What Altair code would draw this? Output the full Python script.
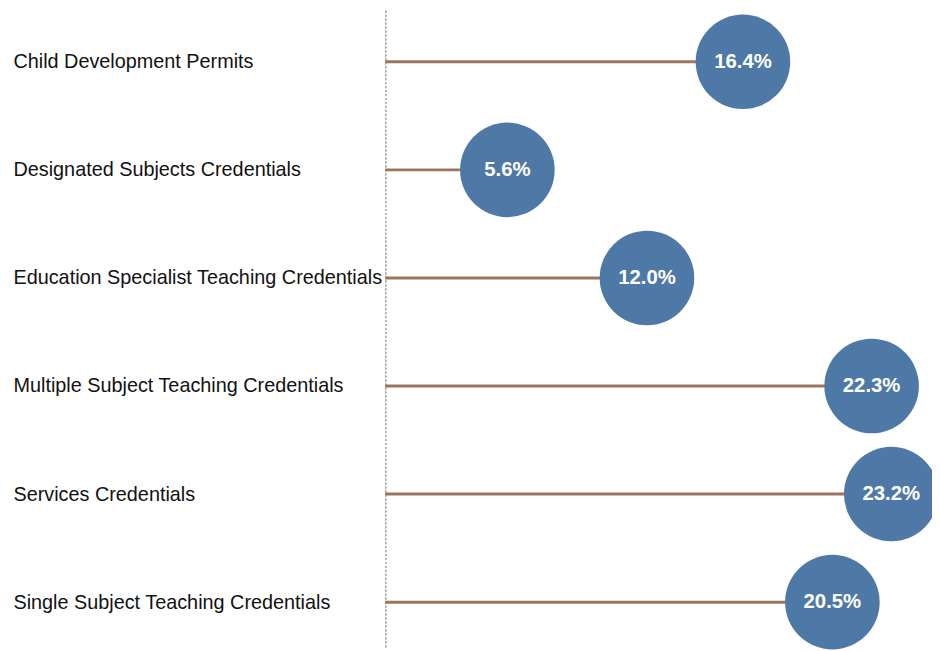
import altair as alt
import pandas as pd

categories = [
    "Child Development Permits",
    "Designated Subjects Credentials",
    "Education Specialist Teaching Credentials",
    "Multiple Subject Teaching Credentials",
    "Services Credentials",
    "Single Subject Teaching Credentials",
]
values = [16.4, 5.6, 12.0, 22.3, 23.2, 20.5]
labels = ["16.4%", "5.6%", "12.0%", "22.3%", "23.2%", "20.5%"]

df = pd.DataFrame({"category": categories, "value": values, "label": labels})

W = 551.5
H = 643

y_enc = alt.Y(
    "category:N",
    sort=categories,
    title=None,
    scale=alt.Scale(type="point", padding=0, range=[51.5, 596.5], round=False),
    axis=alt.Axis(
        labelAlign="left",
        labelPadding=375.5,
        ticks=False,
        domain=False,
        labelFont="Liberation Sans",
        labelFontSize=20,
        labelColor="#111111",
        labelLimit=400,
        grid=False,
    ),
)
x_scale = alt.Scale(domain=[0, 25], range=[0, 550], nice=False, zero=True)

base = alt.Chart(df)

divider = base.mark_rule(color="#b0b0b0", strokeWidth=1, strokeDash=[2, 2]).encode(
    x=alt.value(0.5), y=alt.value(0), y2=alt.value(H)
)

lines = base.mark_rule(color="#9c755f", strokeWidth=3).encode(
    y=y_enc,
    x=alt.X("value:Q", scale=x_scale, axis=None),
    x2=alt.datum(0),
)

circles = base.mark_circle(size=9100, opacity=1, color="#4e79a7").encode(
    y=y_enc,
    x=alt.X("value:Q", scale=x_scale, axis=None),
)

texts = base.mark_text(
    color="white", fontWeight="bold", fontSize=20.5, font="Liberation Sans"
).encode(
    y=y_enc,
    x=alt.X("value:Q", scale=x_scale, axis=None),
    text="label:N",
)

chart = (
    alt.layer(divider, lines, circles, texts)
    .properties(
        width=W,
        height=H,
        background="white",
        autosize=alt.AutoSizeParams(type="none"),
        padding={"left": 380.5, "top": 0, "right": 0, "bottom": 0},
    )
    .configure_view(stroke="transparent", strokeWidth=0)
)

chart.save("out.html", embed_options={"renderer": "svg", "actions": False})
